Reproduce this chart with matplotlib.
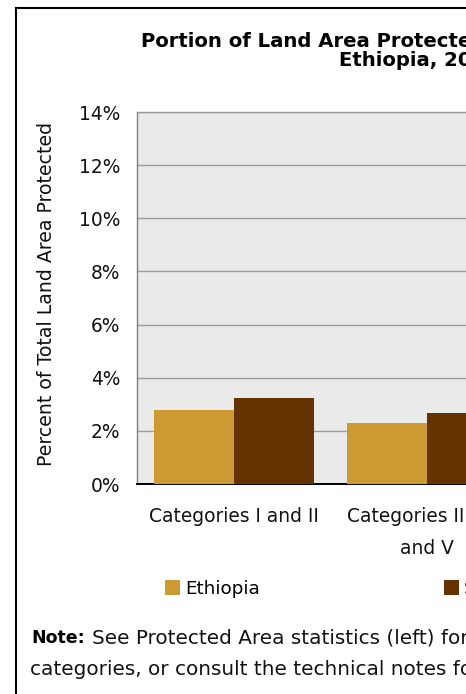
import matplotlib
matplotlib.use("Agg")
import matplotlib.pyplot as plt
from matplotlib.lines import Line2D
from matplotlib.ticker import FuncFormatter
import numpy as np

plt.rcParams['font.family'] = ['DejaVu Sans']

categories = ["Categories I and II", "Categories III, IV,\nand V"]
ethiopia = [2.8, 2.28]
region = [3.25, 2.66]
series_names = ["Ethiopia", "Sub-Saharan Africa"]
yticks = [0, 2, 4, 6, 8, 10, 12, 14]
title_line1 = "Portion of Land Area Protected by IUCN Category,"
title_line2 = "Ethiopia, 2003"
ylabel = "Percent of Total Land Area Protected"
note_bold = "Note:"
note_line1 = "See Protected Area statistics (left) for definitions of the IUCN"
note_line2 = "categories, or consult the technical notes for more information."

W, H = 466, 694
fig = plt.figure(figsize=(W / 100, H / 100), dpi=100)
fig.patch.set_facecolor("white")


def fx(px):
    return px / W


def fy(py):
    return 1 - py / H


ax = fig.add_axes([fx(137.3), fy(484), 386 / W, (484 - 112) / H])
ax.set_facecolor("#EAEAEA")
x = np.arange(len(categories))
bw = 0.416
b1 = ax.bar(x - bw / 2, ethiopia, bw, color="#CC9933", label=series_names[0], zorder=3)
b2 = ax.bar(x + bw / 2, region, bw, color="#663300", label=series_names[1], zorder=3)
ax.set_xlim(-0.5, len(categories) - 0.5)
ax.set_ylim(0, 14)
ax.set_yticks(yticks)
ax.yaxis.set_major_formatter(FuncFormatter(lambda v, p: f"{v:.0f}%"))
ax.set_xticks(x, categories)
ax.grid(axis="y", color="#9C9C9C", linewidth=1)
ax.set_axisbelow(True)
ax.spines["left"].set_color("#808080")
ax.spines["left"].set_linewidth(1.0)
ax.spines["bottom"].set_color("black")
ax.spines["bottom"].set_linewidth(1.4)
ax.spines["top"].set_color("#9C9C9C")
ax.spines["top"].set_linewidth(1.0)
ax.spines["right"].set_visible(False)
ax.tick_params(axis="both", length=0, labelsize=13.4, colors="#111111")
ax.tick_params(axis="y", pad=12.3)
ax.tick_params(axis="x", pad=16.5)
for lbl in ax.get_xticklabels():
    lbl.set_linespacing(1.9)

fig.text(fx(46.5), fy(294), ylabel, rotation=90, ha="center", va="center",
         fontsize=13.6, color="#111111")

fig.text(fx(141), fy(47), title_line1, ha="left", va="baseline", fontsize=14.1, fontweight="bold")
fig.text(fx(339), fy(66), title_line2, ha="left", va="baseline", fontsize=14.1, fontweight="bold")

fig.legend(handles=[b1, b2], labels=series_names, loc="center left",
           bbox_to_anchor=(fx(165), fy(589)), ncol=2, frameon=False, fontsize=13.25,
           handlelength=0.82, handleheight=0.82, handletextpad=0.28,
           columnspacing=10.0, borderpad=0, borderaxespad=0)

fig.text(fx(31.7), fy(643), note_bold, ha="left", va="baseline", fontsize=12.5, fontweight="bold")
fig.text(fx(91.7), fy(643), note_line1, ha="left", va="baseline", fontsize=14.4, color="#111111")
fig.text(fx(30), fy(675), note_line2, ha="left", va="baseline", fontsize=14.4, color="#111111")

fig.add_artist(Line2D([fx(16), fx(16)], [fy(8), 0], transform=fig.transFigure, color="black", lw=1.5))
fig.add_artist(Line2D([fx(16), 1], [fy(8), fy(8)], transform=fig.transFigure, color="black", lw=1.5))

fig.savefig("out.png", dpi=100, facecolor="white")
